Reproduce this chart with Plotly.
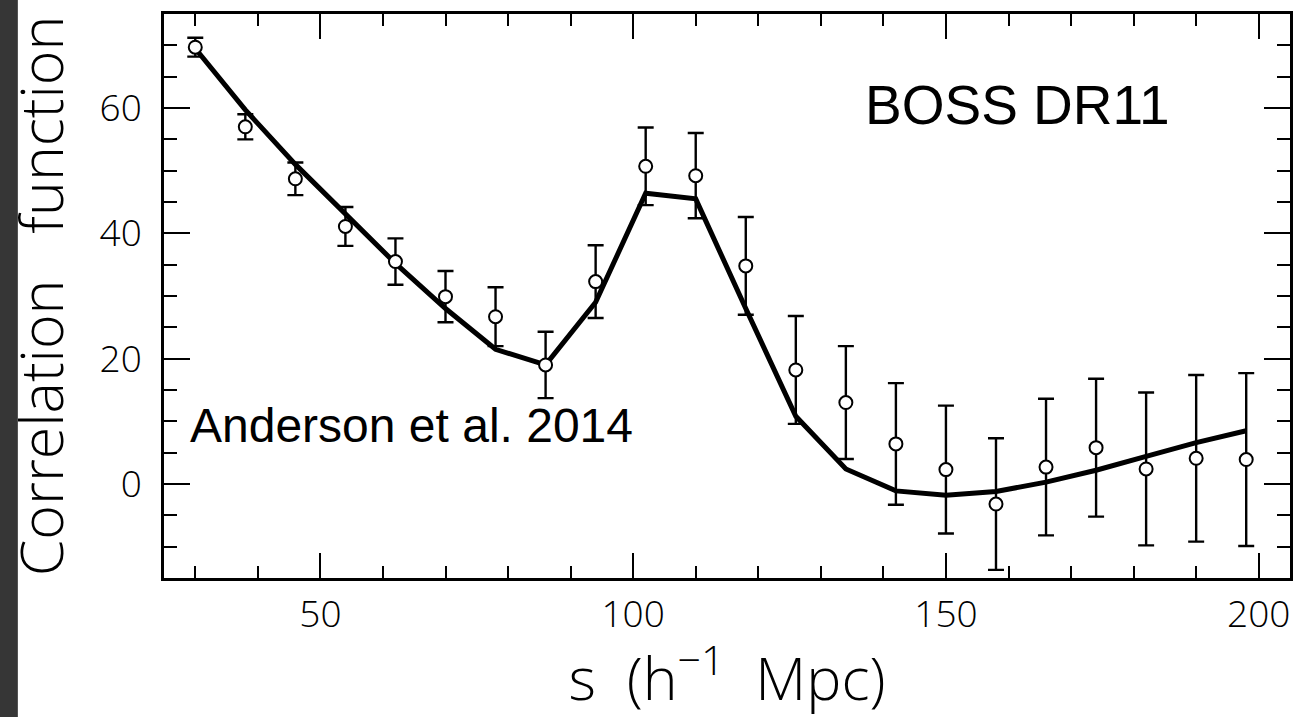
import plotly.graph_objects as go

# Separation bins (h^-1 Mpc)
s = [30, 38, 46, 54, 62, 70, 78, 86, 94, 102, 110, 118,
     126, 134, 142, 150, 158, 166, 174, 182, 190, 198]

# Measured correlation function (scaled) and 1-sigma errors
xi = [69.7, 57.0, 48.7, 41.1, 35.5, 29.9, 26.7, 19.0, 32.3, 50.7, 49.2, 34.8,
      18.2, 13.0, 6.4, 2.3, -3.2, 2.7, 5.8, 2.4, 4.1, 3.9]
xi_err = [1.5, 2.0, 2.6, 3.1, 3.7, 4.1, 4.7, 5.3, 5.8, 6.2, 6.8, 7.8,
          8.6, 9.0, 9.7, 10.2, 10.5, 10.9, 11.0, 12.2, 13.3, 13.8]

# Best-fit model evaluated at the same bins
model = [69.5, 59.7, 51.0, 43.0, 35.2, 28.0, 21.5, 19.0, 29.0, 46.4, 45.5, 28.0,
         10.8, 2.4, -1.1, -1.8, -1.2, 0.3, 2.2, 4.4, 6.6, 8.5]

x_ticks = [50, 100, 150, 200]
y_ticks = [0, 20, 40, 60]

axis_font = dict(family="Open Sans", size=37, color="black", weight=300)
title_font = dict(family="Open Sans", size=59, color="black", weight=300)

fig = go.Figure()

fig.add_trace(go.Scatter(
    x=s, y=model, mode="lines",
    line=dict(color="black", width=5),
    showlegend=False, hoverinfo="skip",
))

fig.add_trace(go.Scatter(
    x=s, y=xi, mode="markers",
    marker=dict(symbol="circle", size=13, color="white",
                line=dict(color="black", width=2)),
    error_y=dict(type="data", array=xi_err, color="black",
                 thickness=2.4, width=8),
    showlegend=False,
))

common_axis = dict(
    showline=True, linecolor="black", linewidth=2.5, mirror="allticks",
    ticks="inside", tickcolor="black", tickwidth=2.2,
    showgrid=False, zeroline=False, tickfont=axis_font, automargin=False,
)

fig.update_xaxes(
    range=[25, 205], tickvals=x_ticks, ticklen=25,
    minor=dict(dtick=10, tick0=0, ticks="inside", ticklen=12,
               tickwidth=2.2, tickcolor="black", showgrid=False),
    ticklabelstandoff=2,
    title=dict(text="s\u00a0\u00a0(h<sup>\u22121</sup>\u00a0\u00a0Mpc)",
               font=title_font, standoff=29),
    **common_axis,
)

fig.update_yaxes(
    range=[-15, 75], tickvals=y_ticks, ticklen=26,
    minor=dict(dtick=5, tick0=0, ticks="inside", ticklen=13,
               tickwidth=2.2, tickcolor="black", showgrid=False),
    ticklabelstandoff=12,
    title=dict(text="Correlation\u00a0\u00a0\u00a0function", font=title_font,
               standoff=25),
    **common_axis,
)

fig.add_annotation(
    x=136.7, y=60.4, xref="x", yref="y", text="BOSS DR11",
    showarrow=False, xanchor="left", yanchor="middle",
    font=dict(family="Liberation Sans", size=55, color="black"),
)
fig.add_annotation(
    x=28.9, y=9.4, xref="x", yref="y", text="Anderson et al. 2014",
    showarrow=False, xanchor="left", yanchor="middle",
    font=dict(family="Liberation Sans", size=48, color="black"),
)

# dark strip along the left edge of the page
fig.add_shape(
    type="rect", xref="paper", yref="paper",
    x0=-0.2, x1=-0.1298, y0=-0.3, y1=1.1,
    fillcolor="#363636", line=dict(width=0), layer="below",
)

fig.update_layout(
    width=1307, height=717,
    margin=dict(l=163.5, r=17, t=14, b=139, autoexpand=False),
    plot_bgcolor="white", paper_bgcolor="white",
)

fig.write_html("out.html")
